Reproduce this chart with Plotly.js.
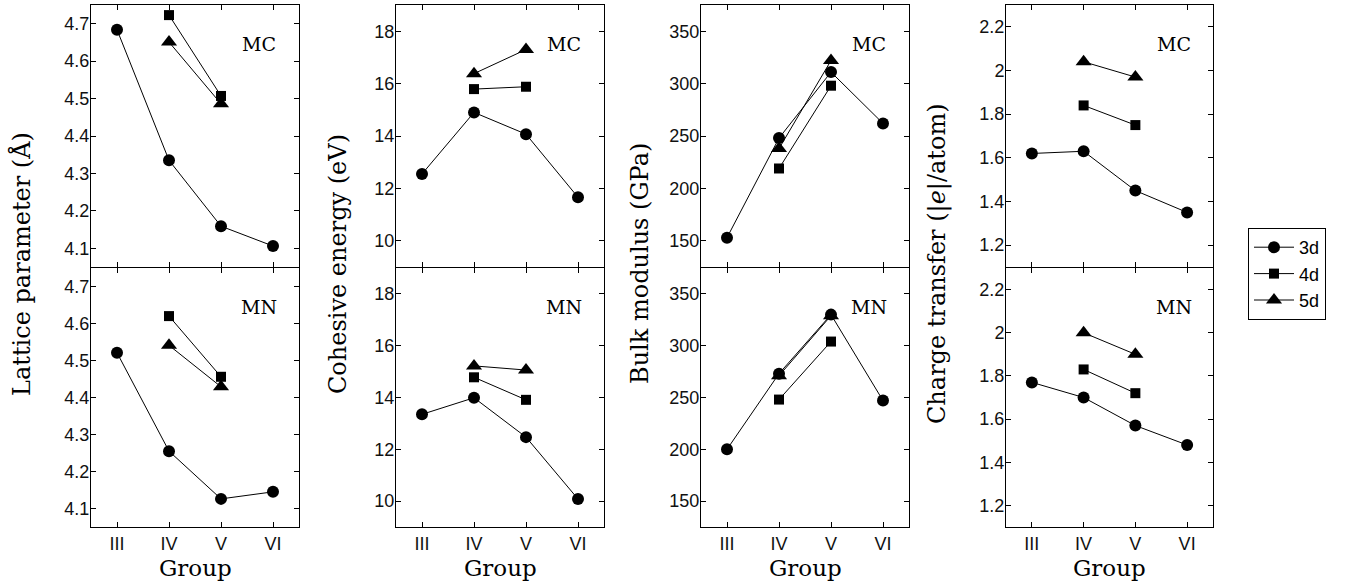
<!DOCTYPE html>
<html>
<head>
<meta charset="utf-8">
<script src="https://cdn.plot.ly/plotly-3.0.1.min.js"></script>
<style>html,body{margin:0;padding:0;background:#fff;}#chart{width:1353px;height:585px;}</style>
</head>
<body>
<div id="chart"></div>
<script>
// ---- data ----
var groups = ['III', 'IV', 'V', 'VI'];
var groups45 = ['IV', 'V'];
var seriesNames = ['3d', '4d', '5d'];
var panelLabels = ['MC', 'MN'];
var yTitles = ['Lattice parameter (Å)', 'Cohesive energy (eV)', 'Bulk modulus (GPa)', 'Charge transfer (|<i>e</i>|/atom)'];
var xTitle = 'Group';

var lattice_MC_3d = [4.684, 4.335, 4.159, 4.106];
var lattice_MC_4d = [4.723, 4.507];
var lattice_MC_5d = [4.651, 4.486];
var lattice_MN_3d = [4.521, 4.255, 4.126, 4.145];
var lattice_MN_4d = [4.620, 4.456];
var lattice_MN_5d = [4.541, 4.429];

var cohesive_MC_3d = [12.55, 14.90, 14.07, 11.66];
var cohesive_MC_4d = [15.79, 15.88];
var cohesive_MC_5d = [16.38, 17.30];
var cohesive_MN_3d = [13.35, 13.99, 12.47, 10.08];
var cohesive_MN_4d = [14.78, 13.91];
var cohesive_MN_5d = [15.22, 15.06];

var bulk_MC_3d = [153, 248, 311, 262];
var bulk_MC_4d = [219, 298];
var bulk_MC_5d = [238, 322];
var bulk_MN_3d = [200, 273, 330, 247];
var bulk_MN_4d = [248, 304];
var bulk_MN_5d = [271, 329];

var charge_MC_3d = [1.62, 1.63, 1.45, 1.35];
var charge_MC_4d = [1.84, 1.75];
var charge_MC_5d = [2.04, 1.97];
var charge_MN_3d = [1.77, 1.70, 1.57, 1.48];
var charge_MN_4d = [1.83, 1.72];
var charge_MN_5d = [2.00, 1.90];

var yRanges = [[4.05, 4.75], [9, 19], [125, 375], [1.1, 2.3]];
var yDticks = [0.1, 2, 50, 0.2];

// ---- build ----
var columns = [
  [[lattice_MC_3d, lattice_MC_4d, lattice_MC_5d], [lattice_MN_3d, lattice_MN_4d, lattice_MN_5d]],
  [[cohesive_MC_3d, cohesive_MC_4d, cohesive_MC_5d], [cohesive_MN_3d, cohesive_MN_4d, cohesive_MN_5d]],
  [[bulk_MC_3d, bulk_MC_4d, bulk_MC_5d], [bulk_MN_3d, bulk_MN_4d, bulk_MN_5d]],
  [[charge_MC_3d, charge_MC_4d, charge_MC_5d], [charge_MN_3d, charge_MN_4d, charge_MN_5d]]
];
var symbols = ['circle', 'square', 'triangle-up'];
var msizes = [12, 10, 14];

var W = 1353, H = 585;
var colX = [[91, 299], [396, 604], [701, 909], [1006, 1213]];
var rowY = [[5, 267], [268, 527]]; // pixel top,bottom
var yTitleX = [22, 338, 640, 938];

var traces = [];
var layout = {
  width: W, height: H,
  margin: {l: 0, r: 0, t: 0, b: 0},
  paper_bgcolor: '#fff', plot_bgcolor: '#fff',
  showlegend: true,
  legend: {
    x: 1248 / W, y: 1 - 228 / H, xanchor: 'left', yanchor: 'top',
    bordercolor: '#000', borderwidth: 1, bgcolor: '#fff',
    font: {family: 'Liberation Sans, Arial, sans-serif', size: 18, color: '#000'},
    traceorder: 'reversed', tracegroupgap: 0, itemwidth: 40
  },
  annotations: []
};

var axFont = {family: 'Liberation Sans, Arial, sans-serif', size: 18, color: '#111'};
var serif = 'DejaVu Serif, Liberation Serif, serif';

for (var c = 0; c < 4; c++) {
  for (var r = 0; r < 2; r++) {
    var n = 2 * c + r + 1;
    var xa = 'xaxis' + (n === 1 ? '' : n), ya = 'yaxis' + (n === 1 ? '' : n);
    var xr = 'x' + (n === 1 ? '' : n), yr = 'y' + (n === 1 ? '' : n);
    layout[xa] = {
      domain: [colX[c][0] / W, colX[c][1] / W],
      anchor: yr, type: 'category', categoryarray: groups, categoryorder: 'array',
      range: [-0.5, 3.5], showgrid: false, zeroline: false,
      showline: true, linecolor: '#000', linewidth: 1, mirror: 'ticks',
      ticks: 'inside', ticklen: 5, tickwidth: 1, tickcolor: '#000',
      showticklabels: r === 1, tickfont: axFont, automargin: false, fixedrange: true
    };
    layout[ya] = {
      domain: [1 - rowY[r][1] / H, 1 - rowY[r][0] / H],
      anchor: xr, range: yRanges[c], dtick: yDticks[c], tick0: 0,
      showgrid: false, zeroline: false,
      showline: true, linecolor: '#000', linewidth: 1, mirror: 'ticks',
      ticks: 'inside', ticklen: 5, tickwidth: 1, tickcolor: '#000',
      ticklabelstandoff: -3,
      tickfont: axFont, automargin: false, fixedrange: true
    };
    for (var s = 2; s >= 0; s--) {
      traces.push({
        type: 'scatter', mode: 'lines+markers',
        x: s === 0 ? groups : groups45,
        y: columns[c][r][s],
        xaxis: xr, yaxis: yr,
        name: seriesNames[s], legendgroup: seriesNames[s],
        showlegend: n === 1,
        line: {color: '#000', width: 1},
        marker: {symbol: symbols[s], size: msizes[s], color: '#000'},
        hoverinfo: 'skip'
      });
    }
    layout.annotations.push({
      text: panelLabels[r], xref: xr + ' domain', yref: yr + ' domain',
      x: 0.81, y: 0.85, xanchor: 'center', yanchor: 'middle', showarrow: false,
      font: {family: serif, size: 19, color: '#000'}
    });
  }
  layout.annotations.push({
    text: yTitles[c], xref: 'paper', yref: 'paper',
    x: yTitleX[c] / W, y: 1 - 264 / H, xanchor: 'center', yanchor: 'middle',
    textangle: -90, showarrow: false,
    font: {family: serif, size: 24, color: '#000'}
  });
  layout.annotations.push({
    text: xTitle, xref: 'paper', yref: 'paper',
    x: (colX[c][0] + colX[c][1]) / 2 / W, y: 1 - 568 / H, xanchor: 'center', yanchor: 'middle',
    showarrow: false,
    font: {family: serif, size: 23, color: '#000'}
  });
}

Plotly.newPlot('chart', traces, layout, {displayModeBar: false, staticPlot: true});
</script>
</body>
</html>
